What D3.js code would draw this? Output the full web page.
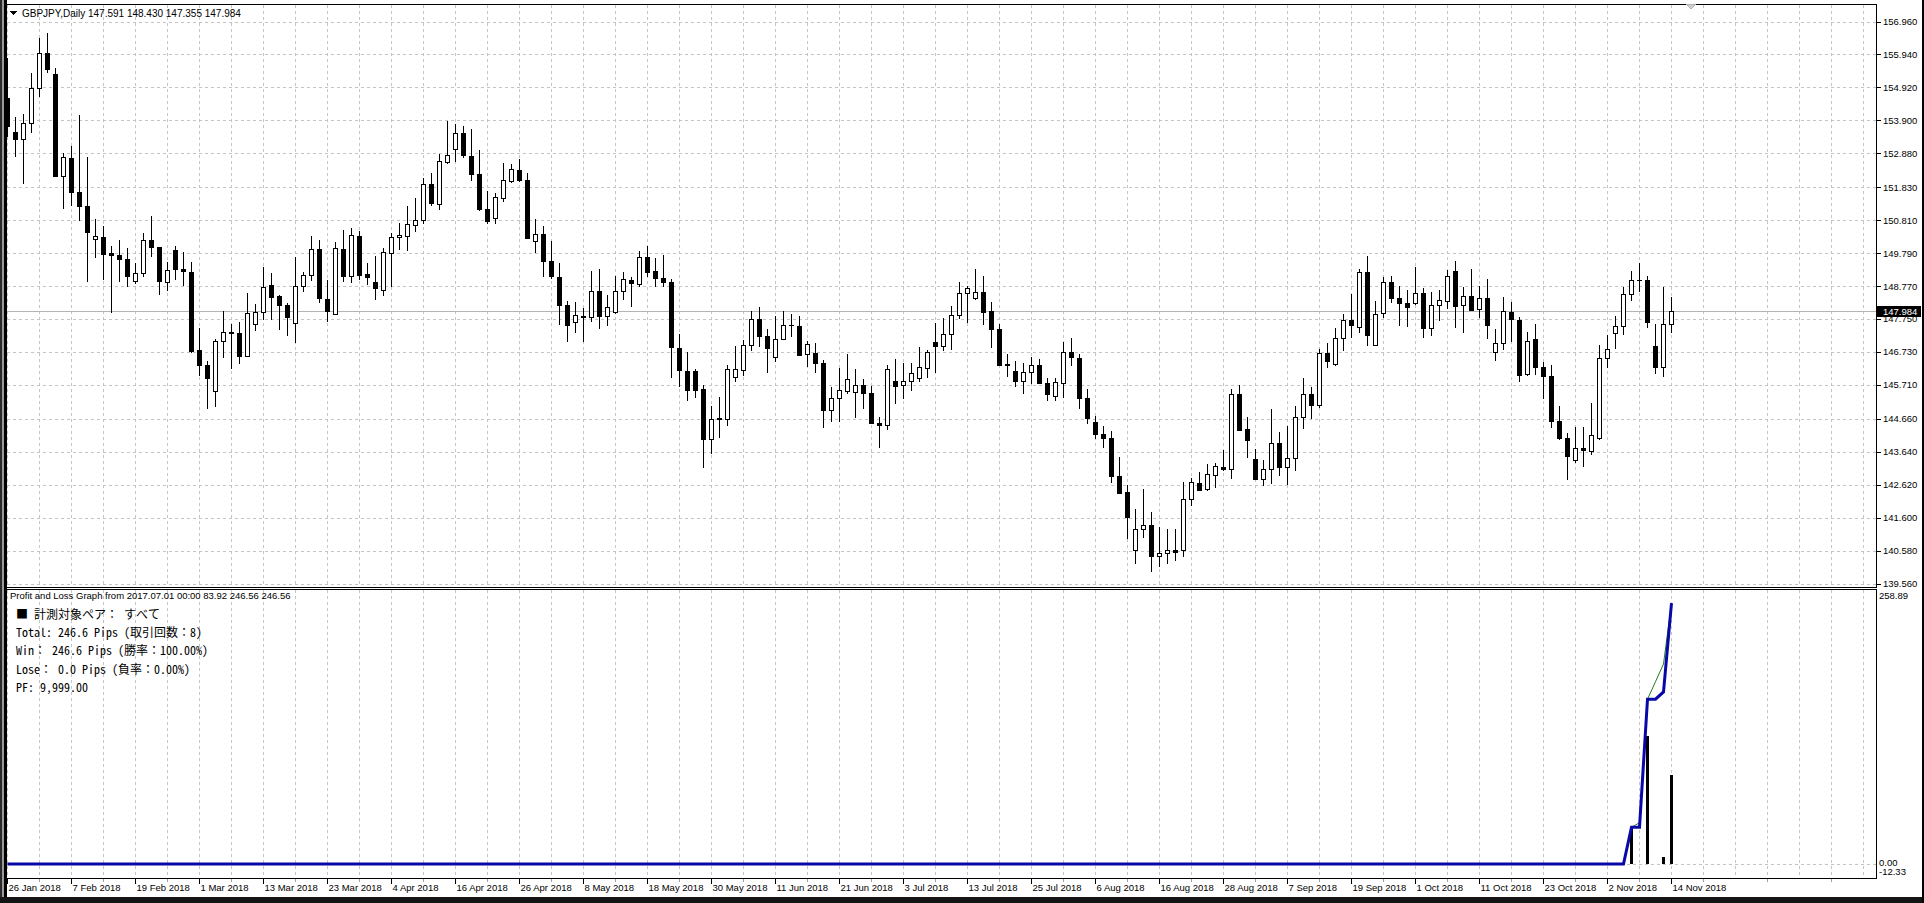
<!DOCTYPE html>
<html>
<head>
<meta charset="utf-8">
<script src="https://cdn.jsdelivr.net/npm/d3@7/dist/d3.min.js"></script>
<style>
html, body { margin: 0; padding: 0; background: #fff; overflow: hidden; }
svg { display: block; font-family: "Liberation Sans", Arial, sans-serif; }
</style>
</head>
<body>
<div id="chart"></div>
<script>
// GBPJPY daily candles, 26 Jan 2018 .. 14 Nov 2018 (one value per bar)
var opens = [
154.60,153.55,153.33,153.83,154.91,155.97,155.35,152.19,152.74,151.69,
151.26,150.23,150.30,149.78,149.73,149.62,148.93,149.18,150.18,149.98,
148.90,149.87,149.31,149.21,146.80,146.33,145.53,147.08,147.35,147.31,
146.61,147.60,147.97,148.79,148.45,148.19,147.62,148.77,149.11,149.92,
148.37,147.89,149.92,149.07,150.33,149.15,148.88,148.66,149.80,150.29,
150.32,150.66,150.82,151.94,151.32,152.62,153.02,153.52,152.81,152.25,
151.16,150.87,151.50,152.03,152.37,152.06,150.17,150.39,149.56,149.05,
148.18,147.66,147.85,147.81,148.63,147.84,147.96,148.63,148.97,148.83,
149.67,149.25,149.02,148.91,146.85,146.14,146.14,145.58,144.03,144.67,
144.65,145.94,146.16,146.94,147.75,147.23,146.56,147.13,147.57,147.54,
146.67,146.71,146.39,144.94,145.30,145.52,145.49,145.70,145.45,144.52,
144.46,145.84,145.70,145.83,145.92,146.23,147.04,146.91,147.27,147.87,
148.56,148.39,148.59,148.00,147.44,146.36,146.15,145.83,146.11,146.32,
145.76,145.36,145.76,146.73,146.54,145.30,144.55,144.19,144.06,142.88,
142.38,140.60,141.24,141.36,140.40,140.50,140.60,140.60,142.17,142.66,
142.48,142.91,143.18,143.10,145.42,144.35,143.41,142.81,143.10,143.90,
143.18,143.44,144.73,145.42,145.09,146.69,146.35,147.15,147.73,147.50,
149.21,146.94,147.94,148.90,148.41,148.25,148.25,148.56,147.46,148.18,
148.30,149.25,148.17,148.47,148.06,148.41,146.72,147.00,147.98,147.73,
146.04,147.13,146.26,145.99,144.60,144.06,143.37,143.75,143.65,144.05,
146.54,147.32,147.52,148.52,148.97,148.97,146.92,146.25,147.591
];
var highs = [
155.84,154.01,154.09,155.36,156.44,156.60,155.53,152.90,153.12,154.06,
152.75,150.83,150.64,150.00,150.19,149.95,149.49,150.40,150.95,149.98,
149.52,150.00,149.82,149.52,147.47,146.46,147.14,148.01,147.60,147.67,
148.56,148.22,149.36,149.18,148.50,148.25,149.67,149.21,150.33,150.21,
148.97,150.13,150.49,150.57,150.46,149.47,149.69,149.95,150.42,150.71,
151.24,151.50,152.12,152.26,152.87,153.88,153.78,153.72,153.62,152.97,
151.71,151.66,152.59,152.56,152.69,152.28,150.85,150.64,150.15,149.49,
148.30,148.29,148.10,149.22,149.31,148.50,149.07,149.21,149.05,149.84,
150.02,149.65,149.74,149.00,147.29,146.74,146.21,145.71,145.06,145.34,
146.33,146.92,147.11,148.01,148.13,147.45,147.85,148.01,147.91,147.85,
147.07,147.00,146.48,145.65,146.24,146.67,146.21,145.89,145.66,144.70,
146.32,146.52,146.39,146.38,146.88,146.80,147.63,147.78,148.14,148.91,
148.76,149.31,149.09,148.27,147.60,146.67,146.46,146.38,146.56,146.52,
145.93,145.93,147.05,147.16,146.68,145.58,144.75,144.44,144.29,143.49,
142.61,141.87,142.49,141.76,141.32,141.24,141.24,142.71,142.84,143.00,
143.26,143.30,143.70,145.59,145.71,144.71,143.73,143.39,144.96,144.24,
144.44,145.05,145.92,145.64,146.82,147.00,147.47,147.90,148.53,149.31,
149.70,148.32,149.04,149.09,148.76,148.66,149.36,148.71,148.58,148.66,
149.28,149.54,148.74,149.30,148.76,149.00,147.45,148.42,148.27,147.80,
147.35,147.60,146.43,146.33,145.06,144.21,144.42,144.40,145.16,146.93,
147.26,147.83,148.73,149.25,149.49,149.07,147.60,148.74,148.430
];
var lows = [
153.41,152.79,151.97,153.54,154.65,155.40,152.17,151.19,151.29,150.81,
148.92,149.67,148.99,147.96,148.93,148.76,148.87,149.07,149.69,148.52,
148.66,148.99,148.81,146.72,146.00,144.99,145.07,146.57,146.23,146.38,
146.61,147.40,147.75,147.75,147.44,147.25,147.03,148.61,148.97,148.27,
147.68,147.89,148.92,148.89,149.00,148.83,148.37,148.49,148.78,149.92,
149.88,150.48,150.71,151.27,151.16,152.59,152.64,152.77,152.05,151.11,
150.71,150.73,151.40,152.00,152.02,150.25,149.82,149.09,149.02,147.59,
147.06,147.34,147.06,147.68,147.47,147.57,147.94,148.37,148.16,148.76,
149.07,148.78,148.76,145.94,145.68,145.25,145.32,143.18,143.59,144.11,
144.47,145.84,146.02,146.80,146.90,146.10,146.46,147.13,147.21,146.64,
146.28,146.10,144.40,144.58,144.60,145.45,144.70,144.99,144.52,143.78,
144.34,145.16,145.29,145.56,145.82,145.94,146.10,146.80,146.82,147.78,
147.65,148.37,147.59,146.87,146.34,145.97,145.66,145.45,145.76,145.76,
145.25,145.25,145.33,146.32,144.98,144.52,144.06,143.80,142.71,142.35,
140.96,140.20,141.01,139.95,140.10,140.20,140.30,140.40,141.99,142.44,
142.46,142.54,143.06,142.82,144.30,143.49,142.81,142.61,142.66,142.92,
142.63,143.06,144.37,144.68,145.01,146.25,146.31,146.78,147.19,147.34,
146.95,146.94,147.80,148.27,147.57,147.52,148.22,147.19,147.24,147.71,
148.08,147.49,147.34,148.02,147.80,147.15,146.49,146.83,147.06,145.82,
146.00,146.04,145.29,144.42,144.04,142.79,143.31,143.21,143.57,144.03,
146.26,146.85,147.29,148.33,148.61,147.49,146.07,145.97,147.355
];
var closes = [
153.72,153.33,153.83,154.91,155.97,155.50,152.17,152.77,151.68,151.24,
150.45,150.32,149.75,149.72,149.61,149.07,149.18,150.18,149.97,148.92,
149.28,149.30,149.23,146.77,146.31,145.92,147.08,147.35,147.31,146.61,
147.94,147.97,148.74,148.43,148.18,147.80,148.77,149.11,149.92,148.39,
147.99,149.95,149.07,150.34,149.12,149.04,148.70,149.83,150.29,150.34,
150.70,150.82,151.94,151.35,152.64,152.84,153.52,152.82,152.25,151.16,
150.79,151.53,152.05,152.38,152.05,150.27,150.39,149.55,149.07,148.17,
147.55,147.88,147.81,148.63,147.83,148.13,148.63,148.99,148.87,149.67,
149.20,149.01,148.89,146.87,146.16,145.54,145.56,144.03,144.65,144.64,
146.20,146.20,146.94,147.75,147.21,146.84,147.12,147.56,147.55,146.65,
146.98,146.38,144.94,145.30,145.55,145.89,145.70,145.45,144.52,144.46,
146.20,145.69,145.83,146.07,146.25,146.73,146.91,147.27,147.87,148.56,
148.70,148.59,147.98,147.43,146.34,146.32,145.83,146.11,146.32,145.76,
145.44,145.80,146.73,146.57,145.29,144.68,144.18,144.05,142.88,142.37,
141.61,141.24,141.36,140.40,140.50,140.60,140.55,142.17,142.69,142.46,
142.94,143.20,143.10,145.42,144.32,143.99,142.81,143.10,143.90,143.18,
143.44,144.73,145.42,145.09,146.69,146.44,147.16,147.73,147.55,149.21,
147.24,147.90,148.90,148.39,148.24,148.11,148.56,147.46,148.18,148.34,
149.07,148.16,148.47,148.04,148.41,147.57,147.00,148.01,147.75,146.02,
147.06,146.25,145.97,144.58,144.08,143.52,143.75,143.68,144.15,146.54,
146.82,147.54,148.52,148.97,148.95,147.65,146.25,147.60,147.984
];

var headerText = "GBPJPY,Daily  147.591 148.430 147.355 147.984";
var lastPrice = 147.984;

// time axis: one label every 8 bars
var dateLabels = ["26 Jan 2018","7 Feb 2018","19 Feb 2018","1 Mar 2018","13 Mar 2018","23 Mar 2018",
  "4 Apr 2018","16 Apr 2018","26 Apr 2018","8 May 2018","18 May 2018","30 May 2018","11 Jun 2018",
  "21 Jun 2018","3 Jul 2018","13 Jul 2018","25 Jul 2018","6 Aug 2018","16 Aug 2018","28 Aug 2018",
  "7 Sep 2018","19 Sep 2018","1 Oct 2018","11 Oct 2018","23 Oct 2018","2 Nov 2018","14 Nov 2018"];
var priceLabels = ["156.960","155.940","154.920","153.900","152.880","151.830","150.810","149.790",
  "148.770","147.750","146.730","145.710","144.660","143.640","142.620","141.600","140.580","139.560"];

// profit and loss sub window
var pnlTitle = "Profit and Loss Graph from 2017.07.01 00:00 83.92 246.56 246.56";
var pnlBarIdx = [203, 205, 207, 208];
var pnlBarVal = [34.7, 121.1, 6.84, 83.92];
var balanceIdx = [0, 202, 203, 204, 205, 206, 207, 208];
var balanceVal = [0, 0, 34.7, 34.7, 155.8, 155.8, 162.64, 246.56];
var equityIdx = [0, 202, 203, 204, 205, 206, 207, 208];
var equityVal = [0, 0, 34.7, 39.0, 155.8, 172.4, 189.1, 246.56];
var pnlAxisLabels = ["258.89", "0.00", "-12.33"];
var infoLines = ["■ 計測対象ペア： すべて",
  "Total: 246.6 Pips (取引回数：8)",
  "Win： 246.6 Pips (勝率：100.00%)",
  "Lose： 0.0 Pips (負率：0.00%)",
  "PF: 9,999.00"];

var width = 1924, height = 903;
var plotRight = 1876.5;
var mainTop = 4.5, mainBottom = 587.5;
var subTop = 589.5, subBottom = 878.5;

var svg = d3.select("#chart").append("svg")
    .attr("width", width)
    .attr("height", height)
    .style("shape-rendering", "crispEdges");

svg.append("rect").attr("width", width).attr("height", height).attr("fill", "#fff");

var x = d3.scaleLinear().domain([0, 208]).range([7.5, 1671.5]);
var y = d3.scaleLinear().domain([139.56, 156.96]).range([583.5, 21.5]);
var ySub = d3.scaleLinear().domain([-12.33, 258.89]).range([877, 590.2]);

var defs = svg.append("defs");
defs.append("clipPath").attr("id", "clipMain").append("rect")
    .attr("x", 7).attr("y", 5).attr("width", plotRight - 7).attr("height", mainBottom - 5);
defs.append("clipPath").attr("id", "clipSub").append("rect")
    .attr("x", 7).attr("y", subTop + 0.5).attr("width", plotRight - 7).attr("height", subBottom - subTop - 1);

var gridIdx = d3.range(0, 233, 4);
var gridColor = "#c4c4c4";

// grid, main window
var gMain = svg.append("g").attr("clip-path", "url(#clipMain)");
gMain.selectAll(".vgrid").data(gridIdx).join("line")
    .attr("x1", d => x(d)).attr("x2", d => x(d))
    .attr("y1", mainTop).attr("y2", mainBottom)
    .attr("stroke", gridColor).attr("stroke-dasharray", "3,3");
gMain.selectAll(".hgrid").data(priceLabels).join("line")
    .attr("x1", 7).attr("x2", plotRight)
    .attr("y1", d => Math.round(y(+d)) + 0.5).attr("y2", d => Math.round(y(+d)) + 0.5)
    .attr("stroke", gridColor).attr("stroke-dasharray", "3,3");

gMain.append("line")
    .attr("x1", 7).attr("x2", plotRight)
    .attr("y1", Math.round(y(lastPrice)) + 0.5).attr("y2", Math.round(y(lastPrice)) + 0.5)
    .attr("stroke", "#b4b4b4");

// candles
var bars = d3.range(opens.length).map(i => ({i: i, o: opens[i], h: highs[i], l: lows[i], c: closes[i]}));
var candle = gMain.selectAll(".candle").data(bars).join("g");
candle.append("line")
    .attr("x1", d => x(d.i)).attr("x2", d => x(d.i))
    .attr("y1", d => Math.round(y(d.h))).attr("y2", d => Math.round(y(d.l)) + 1)
    .attr("stroke", "#000");
candle.filter(d => d.c < d.o).append("rect")
    .attr("x", d => x(d.i) - 2.5)
    .attr("y", d => Math.round(y(d.o)))
    .attr("width", 5)
    .attr("height", d => Math.max(1, Math.round(y(d.c)) - Math.round(y(d.o)) + 1))
    .attr("fill", "#000");
candle.filter(d => d.c >= d.o).append("rect")
    .attr("x", d => x(d.i) - 2)
    .attr("y", d => Math.round(y(d.c)) + 0.5)
    .attr("width", 4)
    .attr("height", d => Math.max(0, Math.round(y(d.o)) - Math.round(y(d.c))))
    .attr("fill", "#fff").attr("stroke", "#000");

// grid, sub window
var gSub = svg.append("g").attr("clip-path", "url(#clipSub)");
gSub.selectAll(".vgrid").data(gridIdx).join("line")
    .attr("x1", d => x(d)).attr("x2", d => x(d))
    .attr("y1", subTop).attr("y2", subBottom)
    .attr("stroke", gridColor).attr("stroke-dasharray", "3,3");
gSub.append("line")
    .attr("x1", 7).attr("x2", plotRight)
    .attr("y1", Math.round(ySub(0)) + 0.5).attr("y2", Math.round(ySub(0)) + 0.5)
    .attr("stroke", gridColor).attr("stroke-dasharray", "3,3");

gSub.selectAll(".pnlbar").data(pnlBarIdx).join("rect")
    .attr("x", d => x(d) - 1.5)
    .attr("y", (d, i) => ySub(pnlBarVal[i]))
    .attr("width", 3)
    .attr("height", (d, i) => ySub(0) - ySub(pnlBarVal[i]))
    .attr("fill", "#000");

var line = d3.line().x(d => x(d[0])).y(d => ySub(d[1]));
gSub.append("path")
    .datum(equityIdx.map((k, i) => [k, equityVal[i]]))
    .attr("fill", "none").attr("stroke", "#1e7b1e").attr("stroke-width", 1)
    .style("shape-rendering", "auto")
    .attr("d", line);
gSub.append("path")
    .datum(balanceIdx.map((k, i) => [k, balanceVal[i]]))
    .attr("fill", "none").attr("stroke", "#0808a8").attr("stroke-width", 3)
    .attr("stroke-linejoin", "miter")
    .style("shape-rendering", "auto")
    .attr("d", line);

// frames
svg.append("rect").attr("x", 6.5).attr("y", mainTop).attr("width", plotRight - 6.5).attr("height", mainBottom - mainTop)
    .attr("fill", "none").attr("stroke", "#000");
svg.append("rect").attr("x", 6.5).attr("y", subTop).attr("width", plotRight - 6.5).attr("height", subBottom - subTop)
    .attr("fill", "none").attr("stroke", "#000");
svg.append("rect").attr("x", 0).attr("y", 0).attr("width", 2).attr("height", height).attr("fill", "#2a2a2a");
svg.append("rect").attr("x", 2).attr("y", 0).attr("width", 2).attr("height", height).attr("fill", "#9a9a9a");
svg.append("rect").attr("x", 4).attr("y", 0).attr("width", 2.5).attr("height", height).attr("fill", "#000");
svg.append("rect").attr("x", 0).attr("y", 897).attr("width", width).attr("height", 6).attr("fill", "#141414");
svg.append("rect").attr("x", 1922).attr("y", 0).attr("width", 2).attr("height", height).attr("fill", "#000");

// price axis
var axisG = svg.append("g").style("font-size", "9.5px").attr("fill", "#000");
axisG.selectAll(".ptick").data(priceLabels).join("line")
    .attr("x1", plotRight).attr("x2", plotRight + 4)
    .attr("y1", d => Math.round(y(+d)) + 0.5).attr("y2", d => Math.round(y(+d)) + 0.5)
    .attr("stroke", "#000");
axisG.selectAll(".plabel").data(priceLabels).join("text")
    .attr("x", 1883).attr("y", d => y(+d) + 3.5)
    .text(d => d);

axisG.append("rect")
    .attr("x", 1877).attr("y", Math.round(y(lastPrice)) - 5)
    .attr("width", 44).attr("height", 11).attr("fill", "#000");
axisG.append("text")
    .attr("x", 1883).attr("y", Math.round(y(lastPrice)) + 4)
    .attr("fill", "#fff").text(lastPrice.toFixed(3));

// sub window axis
axisG.append("text").attr("x", 1879).attr("y", 599).text(pnlAxisLabels[0]);
axisG.append("text").attr("x", 1879).attr("y", ySub(0) + 2).text(pnlAxisLabels[1]);
axisG.append("text").attr("x", 1879).attr("y", ySub(0) + 11).text(pnlAxisLabels[2]);

// time axis
var labelIdx = dateLabels.map((d, i) => i * 8);
axisG.selectAll(".tminor").data(gridIdx.filter(d => d % 8 != 0)).join("line")
    .attr("x1", d => x(d)).attr("x2", d => x(d))
    .attr("y1", subBottom).attr("y2", subBottom + 3)
    .attr("stroke", "#a0a0a0");
axisG.selectAll(".tmajor").data(labelIdx).join("line")
    .attr("x1", d => x(d)).attr("x2", d => x(d))
    .attr("y1", subBottom).attr("y2", subBottom + 5)
    .attr("stroke", "#000");
axisG.selectAll(".tlabel").data(dateLabels).join("text")
    .attr("x", (d, i) => x(labelIdx[i]) + 1)
    .attr("y", 891)
    .text(d => d);

// titles
svg.append("path").attr("d", "M10,11 L17,11 L13.5,15 Z").attr("fill", "#000");
svg.append("text").attr("x", 22).attr("y", 17).style("font-size", "10px").text(headerText);
svg.append("path").attr("d", "M1686,4 L1696,4 L1691,9 Z").attr("fill", "#d0d0d0").attr("stroke", "#b0b0b0");

svg.append("text").attr("x", 10).attr("y", 599).style("font-size", "9.5px").text(pnlTitle);
svg.selectAll(".info").data(infoLines).join("text")
    .attr("x", 16).attr("y", (d, i) => 619 + i * 18.2)
    .style("font-family", "'Noto Sans Mono CJK JP', 'Noto Sans CJK JP', monospace")
    .style("font-size", "12px")
    .text(d => d);
</script>
</body>
</html>
